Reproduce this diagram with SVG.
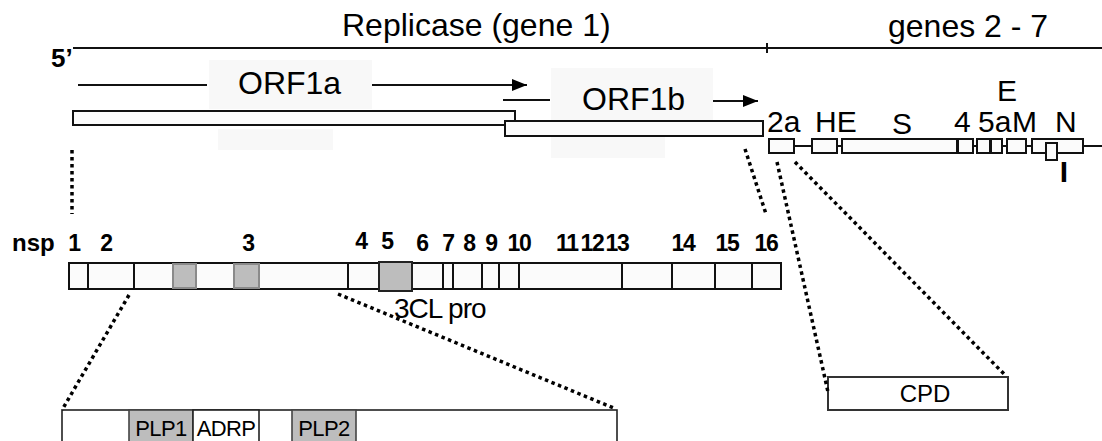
<svg xmlns="http://www.w3.org/2000/svg" width="1102" height="441" viewBox="0 0 1102 441">
<defs>
<style>
text{font-family:"Liberation Sans",Arial,sans-serif;fill:#000}
.hdr{font-size:32px}
.orf{font-size:32px}
.gene{font-size:30px}
.nsp{font-size:23px;font-weight:bold;text-anchor:middle;letter-spacing:-1.2px}
.box{fill:#fbfbfb;stroke:#111;stroke-width:2}
.wbox{fill:#fff;stroke:#222;stroke-width:1.6}
.gray{fill:#bdbdbd;stroke:#8a8a8a;stroke-width:2}
.dgray{fill:#bdbdbd;stroke:#444;stroke-width:1.6}
.ln{stroke:#111;stroke-width:2;fill:none}
.dot{stroke:#000;stroke-width:3.5;stroke-dasharray:3.5 3.5;fill:none}
.faint{fill:#f8f8f8}
.dom{font-size:22px;letter-spacing:-0.6px;text-anchor:middle}
</style>
<marker id="ah" markerUnits="userSpaceOnUse" markerWidth="15" markerHeight="12" refX="15" refY="6" orient="auto">
<path d="M0,0 L15,6 L0,12 Z" fill="#000"/>
</marker>
</defs>
<rect width="1102" height="441" fill="#fff"/>
<g id="faint-bg">
<rect class="faint" x="209" y="60" width="163" height="49"/>
<rect class="faint" x="218" y="129" width="115" height="21"/>
<rect class="faint" x="551" y="68" width="162" height="52"/>
<rect class="faint" x="551" y="137" width="114" height="21"/>
</g>
<g id="genome">
<line class="ln" x1="73" y1="48" x2="1102" y2="48"/>
<line class="ln" x1="767" y1="43" x2="767" y2="53"/>
<text x="51" y="67" style="font-size:26px;font-weight:bold">5’</text>
<text class="hdr" x="342" y="36">Replicase (gene 1)</text>
<text class="hdr" x="888" y="37">genes 2 - 7</text>
</g>
<g id="orf1a">
<rect class="box" x="73" y="111" width="442" height="14"/>
<text class="orf" x="238" y="94">ORF1a</text>
</g>
<g id="orf1b">
<rect class="box" x="505" y="121" width="258" height="15"/>
<text class="orf" x="582" y="110">ORF1b</text>
</g>
<g id="genes">
<line class="ln" x1="794" y1="146" x2="1102" y2="146"/>
<rect class="box" x="769" y="139" width="25" height="14"/>
<rect class="box" x="812" y="139" width="25" height="14"/>
<rect class="box" x="842" y="139" width="115" height="14"/>
<rect class="box" x="958" y="139" width="15" height="14"/>
<rect class="box" x="977" y="139" width="13" height="14"/>
<rect class="box" x="991" y="139" width="11" height="14"/>
<rect class="box" x="1007" y="139" width="19" height="14"/>
<rect class="box" x="1032" y="139" width="51" height="14"/>
<rect class="box" x="1046" y="143" width="11" height="17"/>
<text class="gene" x="767" y="132">2a</text>
<text class="gene" x="815" y="132">HE</text>
<text class="gene" x="892" y="134">S</text>
<text class="gene" x="954" y="132">4</text>
<text class="gene" x="978" y="132">5a</text>
<text class="gene" x="1012" y="132">M</text>
<text class="gene" x="1055" y="132">N</text>
<text class="gene" x="997" y="101">E</text>
<text class="gene" x="1064" y="182" text-anchor="middle" font-weight="bold">I</text>
</g>
<g id="nsp-bar">
<rect class="box" x="69" y="263" width="712" height="26"/>
<path class="ln" d="M88,263V289M134,263V289M348,263V289M443,263V289M453,263V289M482,263V289M499,263V289M519,263V289M622,263V289M672,263V289M715,263V289M752,263V289"/>
<rect class="gray" x="173" y="264" width="23" height="24"/>
<rect class="gray" x="234" y="264" width="25" height="24"/>
<rect x="379" y="262" width="33" height="29" fill="#bdbdbd" stroke="#222" stroke-width="2"/>
<text x="12" y="251" style="font-size:24px;font-weight:bold">nsp</text>
<text class="nsp" x="74" y="251">1</text>
<text class="nsp" x="106" y="251">2</text>
<text class="nsp" x="248" y="251">3</text>
<text class="nsp" x="361" y="249">4</text>
<text class="nsp" x="387" y="249">5</text>
<text class="nsp" x="422" y="251">6</text>
<text class="nsp" x="448" y="251">7</text>
<text class="nsp" x="469" y="251">8</text>
<text class="nsp" x="491" y="251">9</text>
<text class="nsp" x="519" y="251">10</text>
<text class="nsp" x="567" y="251">11</text>
<text class="nsp" x="592" y="251">12</text>
<text class="nsp" x="617" y="251">13</text>
<text class="nsp" x="683" y="251">14</text>
<text class="nsp" x="727" y="251">15</text>
<text class="nsp" x="766" y="251">16</text>
<text x="394" y="318" style="font-size:28px;letter-spacing:-1px">3CL pro</text>
</g>
<g id="nsp3-detail">
<rect class="wbox" x="62" y="410" width="555" height="40"/>
<rect class="dgray" x="129" y="410" width="64" height="40"/>
<rect class="wbox" x="193" y="410" width="66" height="40"/>
<rect class="dgray" x="292" y="410" width="64" height="40"/>
<text class="dom" x="161" y="436">PLP1</text>
<text class="dom" x="226" y="436">ADRP</text>
<text class="dom" x="324" y="436">PLP2</text>
</g>
<g id="cpd">
<rect x="828" y="377" width="180" height="33" fill="#fff" stroke="#333" stroke-width="2"/>
<text x="925" y="402" style="font-size:24px" text-anchor="middle">CPD</text>
</g>
<g id="connectors">
<line class="ln" x1="78" y1="85" x2="207" y2="85"/>
<line class="ln" x1="372" y1="85" x2="527" y2="85" marker-end="url(#ah)"/>
<line class="ln" x1="503" y1="100" x2="550" y2="100"/>
<line class="ln" x1="713" y1="101" x2="758" y2="101" marker-end="url(#ah)"/>
<line class="dot" x1="72" y1="150" x2="72" y2="214"/>
<line class="dot" x1="745" y1="149" x2="766" y2="214"/>
<line class="dot" x1="777" y1="162" x2="828" y2="392"/>
<line class="dot" x1="795" y1="162" x2="1006" y2="376"/>
<line class="dot" x1="129" y1="295" x2="62" y2="410"/>
<line class="dot" x1="338" y1="294" x2="616" y2="409"/>
</g>
</svg>
